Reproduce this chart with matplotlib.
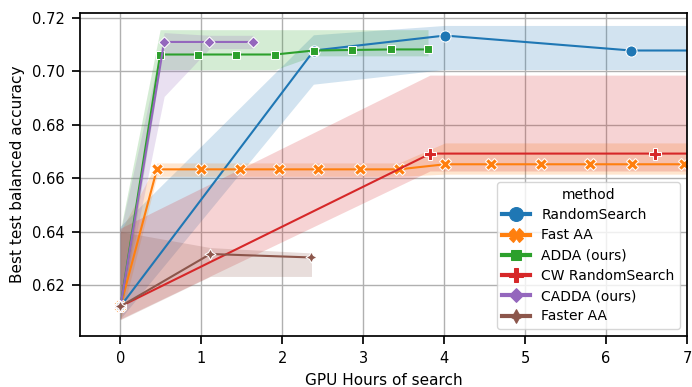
import matplotlib
matplotlib.use("Agg")
import matplotlib.pyplot as plt
from matplotlib.lines import Line2D

plt.rcParams["font.family"] = ["DejaVu Sans"]

methods = ["RandomSearch", "Fast AA", "ADDA (ours)", "CW RandomSearch", "CADDA (ours)", "Faster AA"]
colors = ["#1f77b4", "#ff7f0e", "#2ca02c", "#d62728", "#9467bd", "#8c564b"]
markers = ["o", "X", (4, 0, 45), "P", (4, 0, 0), (4, 1, 0)]

# line data (GPU hours, best test balanced accuracy)
rs_x = [0, 2.39, 4.01, 6.31, 9.0]
rs_y = [0.612, 0.7078, 0.7134, 0.7078, 0.7078]
fa_x = [0, 0.45, 1.0, 1.48, 1.96, 2.44, 2.96, 3.44, 4.01, 4.58, 5.19, 5.80, 6.32, 6.96, 7.5]
fa_y = [0.612, 0.6633, 0.6633, 0.6633, 0.6633, 0.6633, 0.6633, 0.6633,
        0.6652, 0.6652, 0.6652, 0.6652, 0.6652, 0.6652, 0.6652]
adda_x = [0, 0.49, 0.96, 1.43, 1.91, 2.39, 2.86, 3.34, 3.80]
adda_y = [0.612, 0.7063, 0.7063, 0.7063, 0.7063, 0.7078, 0.7080, 0.7082, 0.7082]
cw_x = [0, 3.83, 6.6, 9.0]
cw_y = [0.612, 0.6692, 0.6692, 0.6692]
cadda_x = [0, 0.54, 1.1, 1.64]
cadda_y = [0.612, 0.7110, 0.7110, 0.7110]
faster_x = [0, 1.11, 2.36]
faster_y = [0.612, 0.6316, 0.6303]

# confidence bands
rs_lo = [0.607, 0.695, 0.7005, 0.7005, 0.7005]
rs_hi = [0.6417, 0.7135, 0.717, 0.717, 0.717]
fa_bx = [0, 0.45, 3.44, 4.01, 7.5]
fa_lo = [0.607, 0.6607, 0.6607, 0.6615, 0.6615]
fa_hi = [0.640, 0.6657, 0.6657, 0.6732, 0.6732]
adda_bx = [0, 0.49, 1.91, 2.39, 3.80]
adda_lo = [0.607, 0.7006, 0.7006, 0.7058, 0.7058]
adda_hi = [0.6407, 0.7156, 0.7156, 0.7156, 0.7156]
cw_lo = [0.607, 0.6625, 0.6625, 0.6625]
cw_hi = [0.641, 0.6984, 0.6984, 0.6984]
cadda_lo = [0.610, 0.6906, 0.7085, 0.7085]
cadda_hi = [0.640, 0.7145, 0.7135, 0.7135]
faster_lo = [0.607, 0.6232, 0.6232]
faster_hi = [0.640, 0.634, 0.632]

series = [
    (rs_x, rs_y, rs_x, rs_lo, rs_hi),
    (fa_x, fa_y, fa_bx, fa_lo, fa_hi),
    (adda_x, adda_y, adda_bx, adda_lo, adda_hi),
    (cw_x, cw_y, cw_x, cw_lo, cw_hi),
    (cadda_x, cadda_y, cadda_x, cadda_lo, cadda_hi),
    (faster_x, faster_y, faster_x, faster_lo, faster_hi),
]

fig = plt.figure(figsize=(6.92, 3.87), dpi=100)
ax = fig.add_axes([0.1156, 0.1318, 0.8772, 0.8350])
ax.set_axisbelow(True)
ax.grid(True, color="#b0b0b0", linewidth=1.0)

for (x, y, bx, lo, hi), c, m in zip(series, colors, markers):
    ax.fill_between(bx, lo, hi, color=c, alpha=0.2, linewidth=0)
    ax.plot(x, y, color=c, linewidth=1.5, marker=m, markersize=8,
            markeredgecolor="white", markeredgewidth=0.75)

ax.set_xlim(-0.5, 7)
ax.set_ylim(0.6009, 0.7219)
ax.set_xticks(range(0, 8))
ax.set_yticks([0.62, 0.64, 0.66, 0.68, 0.70, 0.72])
ax.set_yticklabels(["0.62", "0.64", "0.66", "0.68", "0.70", "0.72"])
ax.tick_params(labelsize=10.5, length=6, width=1.25, pad=5)
ax.set_xlabel("GPU Hours of search", fontsize=11, labelpad=5)
ax.set_ylabel("Best test balanced accuracy", fontsize=11, labelpad=5)
for s in ax.spines.values():
    s.set_color("black")
    s.set_linewidth(1.25)

handles = [Line2D([], [], color=c, linewidth=3, marker=m, markersize=10,
                  markeredgecolor=c, markeredgewidth=0.75)
           for c, m in zip(colors, markers)]
ax.legend(handles, methods, title="method", loc="lower right", fontsize=10,
          title_fontsize=10, framealpha=0.8, borderaxespad=0.5,
          labelspacing=0.45, handlelength=2.0)

fig.savefig("out.png", dpi=100)
